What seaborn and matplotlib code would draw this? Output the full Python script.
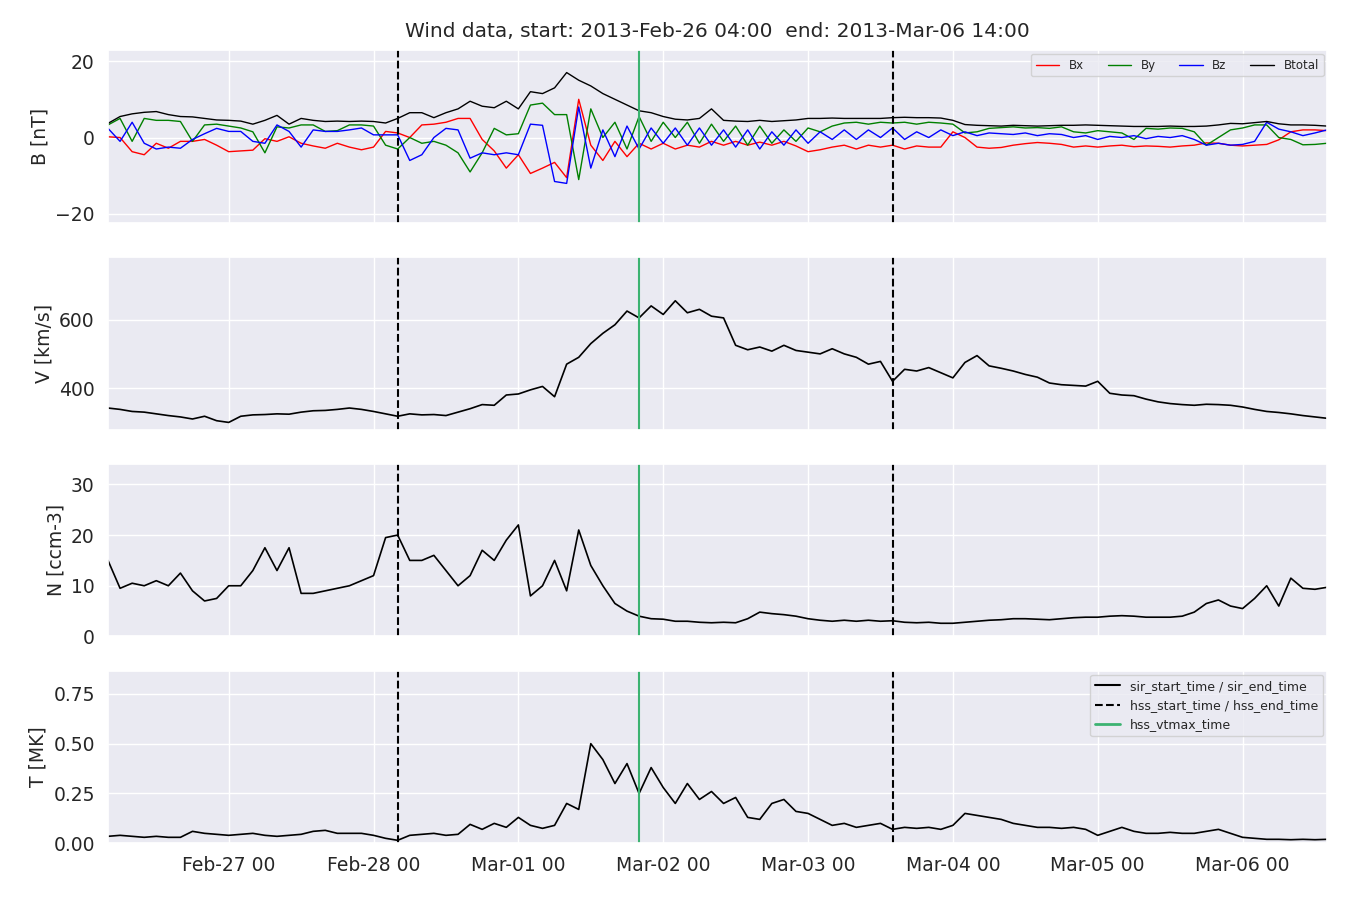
import pandas as pd
import numpy as np
import matplotlib
matplotlib.use('Agg')
import matplotlib.pyplot as plt
import matplotlib.dates as mdates
from matplotlib.lines import Line2D
import seaborn as sns

# 2-hourly values, starting 2013-02-26 04:00
bx = [0.2, 0, -3.7, -4.5, -1.5, -2.8, -1, -1, -0.5, -2, -3.7, -3.5,
      -3.3, -0.3, -1, 0.2, -1.5, -2.2, -2.8, -1.5, -2.5, -3.2, -2.5, 1.6,
      1.2, 0, 3.3, 3.5, 4, 5, 5, -0.5, -3.5, -8, -4.5, -9.4,
      -8, -6.5, -10.5, 10, -2, -6, -1, -5, -1.5, -3, -1.5, -3,
      -2, -2.5, -1, -2, -1, -2, -1.2, -2, -1, -2.2, -3.7, -3.2,
      -2.5, -2, -3, -2, -2.5, -2, -3, -2.2, -2.5, -2.5, 1.5, 0,
      -2.5, -2.8, -2.6, -2, -1.6, -1.3, -1.5, -1.8, -2.5, -2.2, -2.5, -2.2,
      -2, -2.4, -2.2, -2.3, -2.5, -2.2, -2, -1.4, -1.5, -2, -2.2, -2,
      -1.8, -0.6, 1.5, 2, 2, 1.8]
by = [3.3, 5, -1, 5, 4.5, 4.5, 4.2, -1, 3.3, 3.5, 3, 2.5,
      1.5, -4, 2.8, 2.5, 3.3, 3.3, 1.6, 1.8, 3.3, 3.3, 3, -2,
      -3, 0, -1.5, -1, -2, -4, -9, -4, 2.4, 0.7, 1, 8.5,
      9, 6, 6, -11, 7.5, 0, 4, -3, 5.5, -1, 4, 0,
      4, -1.5, 3.5, -1, 3, -2, 3, -1.5, 2, -1, 2.5, 1.5,
      3, 3.8, 4, 3.5, 4, 3.8, 4, 3.5, 4, 3.8, 3.5, 1.2,
      1.5, 2.4, 2.6, 2.8, 2.5, 2.6, 2.4, 2.8, 1.5, 1.2, 1.8, 1.5,
      1.2, -0.5, 2.4, 2.2, 2.5, 2.4, 1.5, -2, 0, 2, 2.5, 3.3,
      3.3, 0, -0.5, -1.9, -1.8, -1.5]
bz = [2.4, -1, 4, -1.5, -3, -2.5, -2.8, -0.5, 1, 2.4, 1.6, 1.6,
      -1, -1.5, 3.3, 1.6, -2.5, 2, 1.6, 1.6, 2, 2.5, 0.7, 0.7,
      0.7, -6, -4.5, 0, 2.4, 2, -5.4, -4, -4.5, -4, -4.5, 3.5,
      3.2, -11.5, -12, 8, -8, 2, -5, 3, -3, 2.5, -1.5, 2.5,
      -2, 2.5, -2, 2, -2.5, 2, -3, 1.5, -2, 2, -1.5, 1.5,
      -0.5, 2, -0.5, 2, 0, 2.5, -0.5, 1.5, 0, 2, 0.5, 1.5,
      0.5, 1.2, 1, 0.8, 1.2, 0.5, 1, 0.8, 0, 0.5, -0.5, 0.3,
      0, 0.5, -0.3, 0.3, 0, 0.5, -0.5, -2, -1.5, -2, -1.8, -1,
      4, 2.2, 1.5, 0.5, 1.2, 2]
btot = [3.7, 5.5, 6.2, 6.6, 6.8, 6, 5.5, 5.4, 5, 4.6, 4.5, 4.3,
        3.5, 4.5, 5.8, 3.5, 5, 4.5, 4.2, 4.3, 4.2, 4.3, 4.2, 3.8,
        5, 6.5, 6.5, 5.2, 6.5, 7.5, 9.5, 8.2, 7.8, 9.5, 7.5, 12,
        11.5, 13, 17, 15, 13.5, 11.5, 10, 8.5, 7, 6.5, 5.5, 4.8,
        4.6, 5, 7.5, 4.5, 4.3, 4.2, 4.5, 4.2, 4.4, 4.6, 5, 5,
        5.1, 5, 5, 5, 5, 5.2, 5.3, 5.2, 5.2, 5.1, 4.5, 3.4,
        3.2, 3.1, 3, 3.2, 3.1, 3, 3.1, 3.2, 3.2, 3.3, 3.2, 3.1,
        3, 2.9, 2.9, 2.9, 3, 2.9, 2.9, 3, 3.3, 3.7, 3.6, 3.9,
        4.2, 3.6, 3.3, 3.3, 3.2, 3]
vel = [342, 338, 332, 330, 325, 320, 316, 310, 318, 305, 300, 318,
       322, 323, 325, 324, 330, 334, 335, 338, 342, 338, 332, 325,
       318, 325, 322, 323, 320, 330, 340, 352, 350, 380, 383, 395,
       405, 375, 470, 490, 530, 560, 585, 625, 605, 640, 615, 655,
       620, 630, 610, 605, 525, 512, 520, 508, 525, 510, 505, 500,
       515, 500, 490, 470, 478, 420, 455, 450, 460, 445, 430, 475,
       495, 465, 458, 450, 440, 432, 415, 410, 408, 406, 420, 385,
       380, 378, 368, 360, 355, 352, 350, 353, 352, 350, 345, 338,
       332, 329, 325, 320, 316, 312]
dens = [15, 9.5, 10.5, 10, 11, 10, 12.5, 9, 7, 7.5, 10, 10,
        13, 17.5, 13, 17.5, 8.5, 8.5, 9, 9.5, 10, 11, 12, 19.5,
        20, 15, 15, 16, 13, 10, 12, 17, 15, 19, 22, 8,
        10, 15, 9, 21, 14, 10, 6.5, 5, 4, 3.5, 3.4, 3,
        3, 2.8, 2.7, 2.8, 2.7, 3.5, 4.8, 4.5, 4.3, 4, 3.5, 3.2,
        3, 3.2, 3, 3.2, 3, 3.1, 2.8, 2.7, 2.8, 2.6, 2.6, 2.8,
        3, 3.2, 3.3, 3.5, 3.5, 3.4, 3.3, 3.5, 3.7, 3.8, 3.8, 4.0,
        4.1, 4.0, 3.8, 3.8, 3.8, 4.0, 4.8, 6.5, 7.2, 6.0, 5.5, 7.5,
        10, 6, 11.5, 9.5, 9.3, 9.7]
temp = [.035, .04, .035, .03, .035, .03, .03, .06, .05, .045, .04, .045,
        .05, .04, .035, .04, .045, .06, .065, .05, .05, .05, .04, .025,
        .015, .04, .045, .05, .04, .045, .095, .07, .1, .08, .13, .09,
        .075, .09, .2, .17, .5, .42, .3, .4, .25, .38, .28, .2,
        .3, .22, .26, .2, .23, .13, .12, .2, .22, .16, .15, .12,
        .09, .1, .08, .09, .1, .07, .08, .075, .08, .07, .09, .15,
        .14, .13, .12, .1, .09, .08, .08, .075, .08, .07, .04, .06,
        .08, .06, .05, .05, .055, .05, .05, .06, .07, .05, .03, .025,
        .02, .02, .018, .02, .018, .02]

start = pd.Timestamp('2013-02-26 04:00')
end = pd.Timestamp('2013-03-06 14:00')
hss_start = pd.Timestamp('2013-02-28 04:00')
hss_end = pd.Timestamp('2013-03-03 14:00')
hss_vtmax = pd.Timestamp('2013-03-01 20:00')


def times(vals):
    return pd.date_range(start, periods=len(vals), freq='2h')


sns.set_theme(style='darkgrid')
plt.rcParams['font.family'] = ['DejaVu Sans']

fig, axes = plt.subplots(4, 1, sharex=True, figsize=(13.5, 9), dpi=100)
fig.subplots_adjust(left=0.08, right=0.983, top=0.944, bottom=0.063, hspace=0.2)

ax = axes[0]
for vals, col, lab in [(bx, 'red', 'Bx'), (by, 'green', 'By'),
                       (bz, 'blue', 'Bz'), (btot, 'black', 'Btotal')]:
    sns.lineplot(x=times(vals), y=vals, ax=ax, color=col, lw=1, label=lab)
ax.set_ylim(-22.3, 22.8)
ax.set_yticks([-20, 0, 20])
ax.set_ylabel('B [nT]', fontsize=13.5)
ax.legend(loc='upper right', ncol=4, fontsize=8.5, borderaxespad=0.3)
ax.set_title('Wind data, start: 2013-Feb-26 04:00  end: 2013-Mar-06 14:00',
             fontsize=14.5, pad=10)

sns.lineplot(x=times(vel), y=vel, ax=axes[1], color='black', lw=1.2)
axes[1].set_ylim(279, 782)
axes[1].set_yticks([400, 600])
axes[1].set_ylabel('V [km/s]', fontsize=13.5)

sns.lineplot(x=times(dens), y=dens, ax=axes[2], color='black', lw=1.2)
axes[2].set_ylim(0, 34)
axes[2].set_yticks([0, 10, 20, 30])
axes[2].set_ylabel('N [ccm-3]', fontsize=13.5)

sns.lineplot(x=times(temp), y=temp, ax=axes[3], color='black', lw=1.2)
axes[3].set_ylim(0, 0.865)
axes[3].set_yticks([0, 0.25, 0.5, 0.75])
axes[3].yaxis.set_major_formatter(plt.FormatStrFormatter('%.2f'))
axes[3].set_ylabel('T [MK]', fontsize=13.5)

for a in axes:
    a.axvline(hss_start, color='black', ls='--', lw=1.5)
    a.axvline(hss_end, color='black', ls='--', lw=1.5)
    a.axvline(hss_vtmax, color='mediumseagreen', lw=1.5)
    a.tick_params(labelsize=13.5)
    a.set_xlim(start, end)
    a.set_xlabel('')

axes[3].xaxis.set_major_locator(mdates.DayLocator())
axes[3].xaxis.set_major_formatter(mdates.DateFormatter('%b-%d %H'))

handles = [Line2D([], [], color='black', lw=1.5),
           Line2D([], [], color='black', ls='--', lw=1.5),
           Line2D([], [], color='mediumseagreen', lw=2)]
axes[3].legend(handles, ['sir_start_time / sir_end_time',
                         'hss_start_time / hss_end_time',
                         'hss_vtmax_time'],
               loc='upper right', fontsize=9, borderaxespad=0.3)

plt.savefig('out.png', dpi=100)
